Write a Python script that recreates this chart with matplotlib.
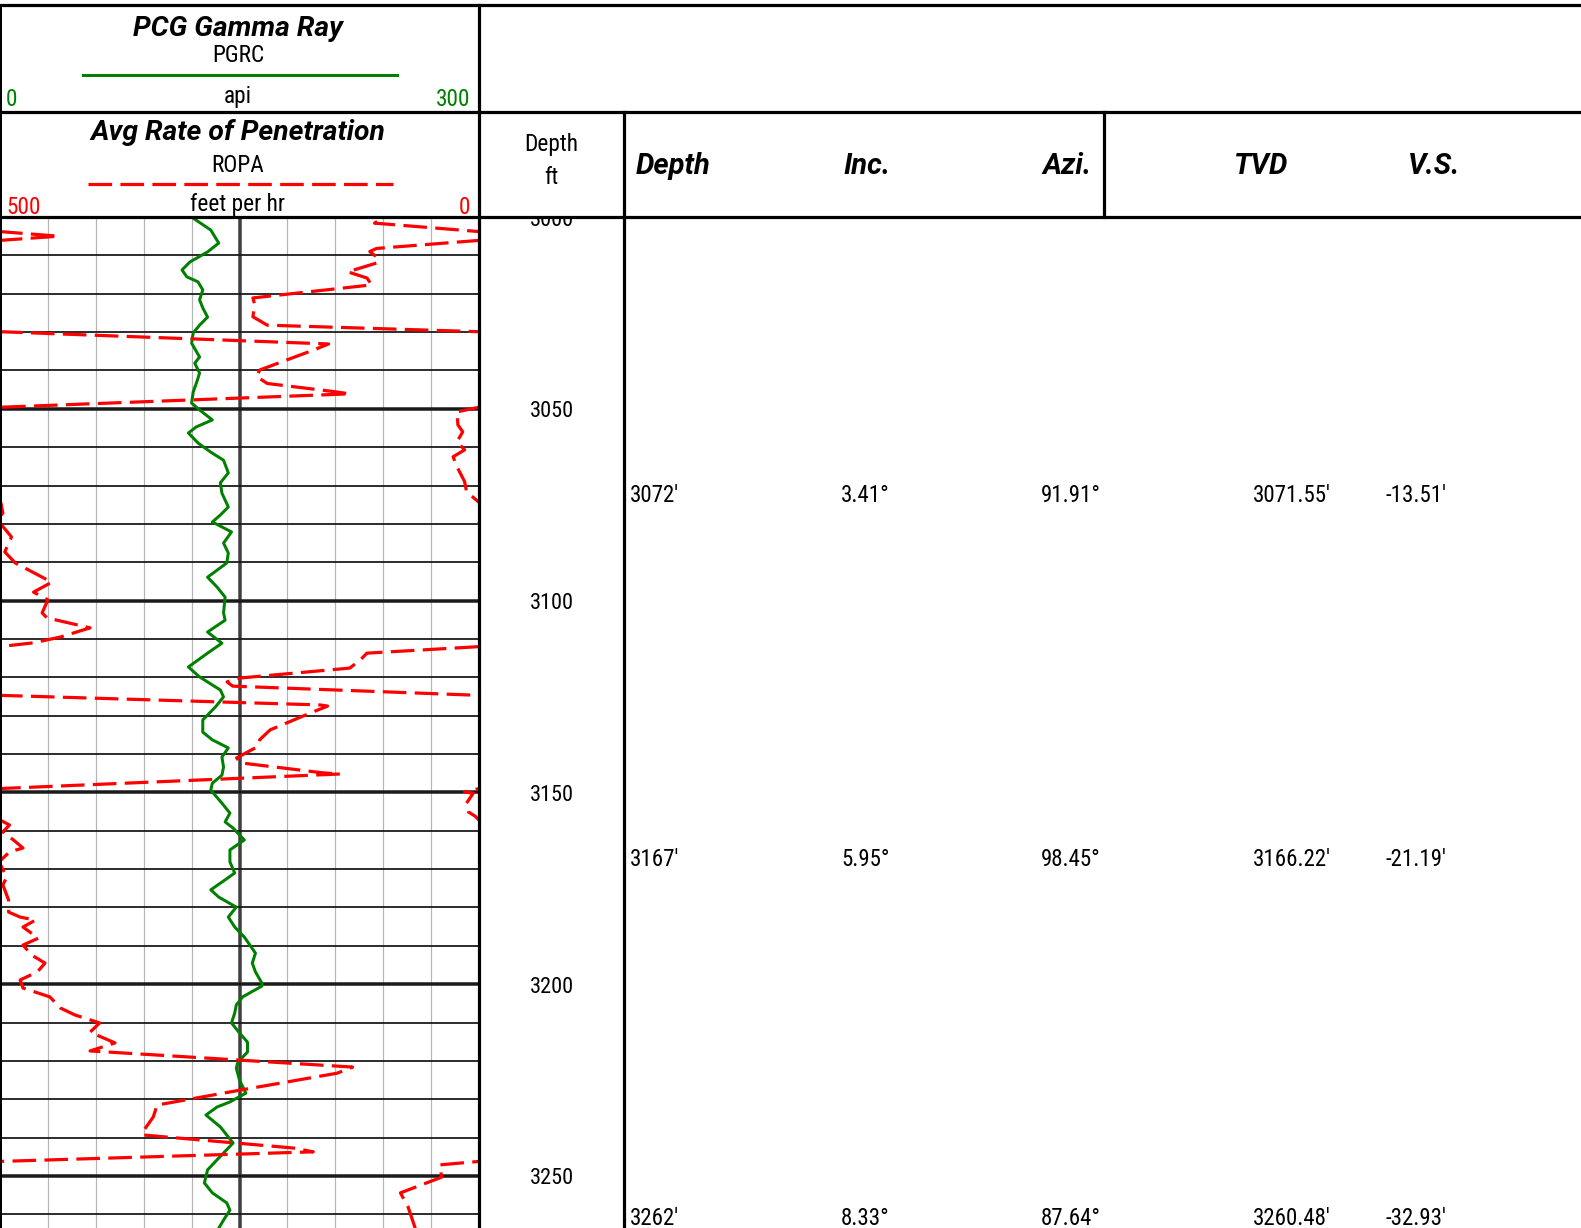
import matplotlib
matplotlib.use("Agg")
import matplotlib.pyplot as plt
from matplotlib.transforms import offset_copy

plt.rcParams['font.family'] = ['Roboto Condensed', 'Roboto', 'DejaVu Sans']
plt.rcParams['lines.scale_dashes'] = False
TITLE_FONT = ['Roboto', 'DejaVu Sans']

# ---- curve data -------------------------------------------------------
gr_depth = [3000.3, 3003.4, 3006.8, 3009.1, 3011.7, 3013.8, 3015.6, 3016.9, 3019.0, 3021.6,
            3023.7, 3026.1, 3028.2, 3030.2, 3032.9, 3036.5, 3038.1, 3040.7, 3043.3, 3045.6,
            3048.5, 3050.3, 3052.9, 3054.7, 3056.3, 3058.9, 3061.3, 3063.4, 3066.7, 3069.3,
            3072.0, 3075.6, 3077.7, 3079.5, 3082.1, 3085.0, 3087.6, 3090.2, 3093.9, 3096.5,
            3099.1, 3103.2, 3105.1, 3108.2, 3111.1, 3113.7, 3117.3, 3119.9, 3123.3, 3125.1,
            3127.7, 3131.1, 3134.3, 3136.3, 3138.4, 3140.8, 3143.4, 3145.5, 3147.6, 3149.4,
            3152.8, 3155.4, 3157.7, 3159.3, 3162.4, 3165.0, 3168.1, 3171.0, 3172.8, 3175.4,
            3177.3, 3179.9, 3182.5, 3185.1, 3187.7, 3191.9, 3194.5, 3196.8, 3199.7, 3200.5,
            3203.3, 3205.4, 3207.5, 3210.1, 3212.7, 3215.1, 3217.7, 3220.3, 3221.9, 3225.0,
            3228.4, 3230.7, 3232.0, 3234.1, 3237.2, 3241.4, 3244.0, 3248.4, 3251.8, 3254.4,
            3257.0, 3258.9, 3261.5, 3263.6]
gr_api = [121, 132, 137, 130, 119, 114, 117, 124, 127, 125,
          127, 130, 125, 121, 120, 125, 122, 125, 123, 121,
          120, 125, 133, 123, 118, 124, 132, 140, 143, 138,
          139, 143, 138, 133, 145, 140, 143, 142, 130, 136,
          141, 140, 141, 130, 139, 130, 118, 125, 138, 140,
          135, 127, 127, 133, 143, 139, 140, 139, 133, 132,
          139, 144, 141, 146, 153, 144, 144, 147, 141, 132,
          137, 148, 143, 147, 153, 160, 158, 160, 164, 164,
          152, 148, 147, 145, 150, 155, 155, 149, 148, 150,
          154, 144, 136, 129, 138, 146, 140, 130, 128, 133,
          142, 144, 140, 137]

# ROP in ft/hr; readings above 500 are shown on the wrap-around (backup) scale
rop_depth = [2999.8, 3000.1, 3001.6, 3003.8, 3005.0, 3006.1, 3008.2, 3009.0, 3010.8, 3012.0,
             3014.3, 3015.9, 3017.7, 3021.1, 3022.9, 3026.0, 3028.2, 3029.9, 3033.1, 3034.7,
             3039.9, 3041.6, 3043.4, 3045.5, 3046.1, 3049.6, 3050.8, 3054.2, 3056.0, 3058.6,
             3060.7, 3062.5, 3065.1, 3069.0, 3071.6, 3074.6, 3077.2, 3078.5, 3079.8, 3083.4,
             3087.3, 3090.2, 3095.2, 3097.8, 3099.8, 3103.2, 3104.5, 3107.1, 3109.5, 3111.0,
             3112.0, 3113.7, 3115.5, 3117.6, 3120.2, 3121.2, 3122.3, 3124.7, 3127.2, 3127.5,
             3129.3, 3133.7, 3136.3, 3138.2, 3141.0, 3142.3, 3144.9, 3145.2, 3149.0, 3149.9,
             3150.2, 3152.8, 3155.1, 3156.2, 3157.2, 3158.5, 3160.3, 3162.4, 3164.5, 3165.5,
             3168.1, 3172.1, 3174.1, 3178.1, 3181.2, 3182.5, 3183.3, 3185.1, 3188.0, 3189.8,
             3192.4, 3194.5, 3196.8, 3198.9, 3201.0, 3203.3, 3206.2, 3208.0, 3210.1, 3212.5,
             3215.3, 3217.4, 3219.8, 3221.6, 3223.2, 3227.6, 3231.5, 3234.6, 3238.5, 3239.3,
             3242.7, 3243.7, 3246.2, 3247.1, 3250.3, 3254.4, 3258.1, 3263.3, 3265.4]
rop_fph = [541, 600, 609, 500, 439, 500, 607, 614, 605, 607,
           637, 617, 612, 736, 734, 736, 721, 500, 157, 173,
           229, 232, 221, 152, 135, 500, 523, 522, 517, 523,
           515, 527, 523, 515, 513, 499, 497, 502, 500, 488,
           495, 484, 446, 465, 450, 456, 451, 406, 437, 465,
           500, 617, 624, 635, 750, 763, 757, 500, 166, 158,
           176, 218, 229, 232, 253, 249, 163, 145, 500, 515,
           506, 513, 511, 504, 500, 490, 497, 486, 476, 490,
           501, 493, 497, 491, 491, 479, 463, 476, 460, 476,
           467, 453, 461, 479, 476, 448, 437, 422, 396, 406,
           380, 406, 249, 132, 148, 249, 336, 340, 351, 351,
           194, 173, 500, 541, 539, 582, 574, 567, 565]

# ---- directional survey stations ---------------------------------------
svy_md = [3072, 3167, 3262]
svy_inc = [3.41, 5.95, 8.33]
svy_azi = [91.91, 98.45, 87.64]
svy_tvd = [3071.55, 3166.22, 3260.48]
svy_vs = [-13.51, -21.19, -32.93]

depth_labels = [3000, 3050, 3100, 3150, 3200, 3250]

# ---- layout (pixel based) ----------------------------------------------
W, H = 1581, 1228
TOP, MID, HDR = 5, 112, 217
X_TRK, X_DEP, X_SVY = 479, 624, 1104
PX = 0.72  # points per pixel at dpi=100
top_depth = 3000.0
bot_depth = top_depth + (H - HDR) / 3.836

GREEN = '#008000'
RED = '#ff0000'
DASH = (0, (17, 6))


def frac(x0, y0, x1, y1):
    return [x0 / W, 1 - y1 / H, (x1 - x0) / W, (y1 - y0) / H]


fig = plt.figure(figsize=(W / 100, H / 100), dpi=100)

# log track: gamma ray (0-300 api) and ROP (500-0 ft/hr) share depth
ax = fig.add_axes(frac(0, HDR, X_TRK, H))
ax.set_xlim(0, 300)
ax.set_ylim(bot_depth, top_depth)
for g in range(30, 300, 30):
    if g == 150:
        ax.axvline(g, color='#404040', lw=3.5 * PX, zorder=1)
    else:
        ax.axvline(g, color='#b4b4b4', lw=1.2 * PX, zorder=1)
for d in range(3010, 3270, 10):
    heavy = d % 50 == 0
    ax.axhline(d, color='#1a1a1a', lw=(3.5 if heavy else 1.8) * PX, zorder=1)
ax.plot(gr_api, gr_depth, color=GREEN, lw=3 * PX, zorder=3, solid_joinstyle='round')

ax_rop = ax.twiny()
ax_rop.set_xlim(500, 0)
ax_rop.set_ylim(bot_depth, top_depth)
ax_rop.plot(rop_fph, rop_depth, color=RED, lw=3.2 * PX, ls=DASH)
ax_rop.plot([v - 500 for v in rop_fph], rop_depth, color=RED, lw=3.2 * PX, ls=DASH)

for a in (ax, ax_rop):
    a.set_xticks([])
    a.set_yticks([])
    for s in a.spines.values():
        s.set_visible(False)

# depth track
ax_d = fig.add_axes(frac(X_TRK, HDR, X_DEP, H))
ax_d.set_xlim(0, 1)
ax_d.set_ylim(bot_depth, top_depth)
ax_d.axis('off')
d_tr = offset_copy(ax_d.transData, fig=fig, y=-3, units='dots')
for d in depth_labels:
    ax_d.text(0.5, d, str(d), ha='center', va='center', fontsize=16, clip_on=True,
              transform=d_tr)

# survey listing
ax_s = fig.add_axes(frac(X_DEP, HDR, W, H))
ax_s.set_xlim(X_DEP, W)
ax_s.set_ylim(bot_depth, top_depth)
ax_s.axis('off')
s_tr = offset_copy(ax_s.transData, fig=fig, y=-2, units='dots')
for md, inc, azi, tvd, vs in zip(svy_md, svy_inc, svy_azi, svy_tvd, svy_vs):
    y = min(md, bot_depth - 2.9)
    kw = dict(va='center', fontsize=16.5, transform=s_tr)
    ax_s.text(630, y, f"{md}'", ha='left', **kw)
    ax_s.text(841, y, f"{inc:.2f}°", ha='left', **kw)
    ax_s.text(1041, y, f"{azi:.2f}°", ha='left', **kw)
    ax_s.text(1253, y, f"{tvd:.2f}'", ha='left', **kw)
    ax_s.text(1385, y, f"{vs:.2f}'", ha='left', **kw)

# header and frame drawn in pixel coordinates
hd = fig.add_axes([0, 0, 1, 1], zorder=10)
hd.set_xlim(0, W)
hd.set_ylim(H, 0)
hd.axis('off')
hd.patch.set_alpha(0)

thick = 3.2 * PX
for y in (TOP, MID, HDR):
    hd.plot([0, W], [y, y], color='black', lw=thick, solid_capstyle='butt')
hd.plot([1, 1], [TOP, H], color='black', lw=2 * PX)
hd.plot([X_TRK, X_TRK], [TOP, H], color='black', lw=thick)
hd.plot([X_DEP, X_DEP], [MID, H], color='black', lw=thick)
hd.plot([X_SVY, X_SVY], [MID, HDR], color='black', lw=thick)

title_kw = dict(fontsize=20.3, fontweight='bold', fontstyle='italic', ha='center',
                va='center', family=TITLE_FONT)
norm_kw = dict(fontsize=16.8, va='center')

hd.text(238, 28, 'PCG Gamma Ray', **title_kw)
hd.text(238, 56, 'PGRC', ha='center', **norm_kw)
hd.plot([83, 397], [75, 75], color=GREEN, lw=3 * PX)
hd.text(6, 100, '0', ha='left', color=GREEN, **norm_kw)
hd.text(470, 100, '300', ha='right', color=GREEN, **norm_kw)
hd.text(238, 96, 'api', ha='center', **norm_kw)

hd.text(238, 133, 'Avg Rate of Penetration', **title_kw)
hd.text(238, 165, 'ROPA', ha='center', **norm_kw)
hd.plot([88, 393], [184, 184], color=RED, lw=3.2 * PX, ls=DASH)
hd.text(6, 207, '500', ha='left', color=RED, **norm_kw)
hd.text(470, 207, '0', ha='right', color=RED, **norm_kw)
hd.text(238, 205, 'feet per hr', ha='center', **norm_kw)

hd.text(551, 145, 'Depth', ha='center', **norm_kw)
hd.text(551, 177, 'ft', ha='center', **norm_kw)

col_kw = dict(fontsize=21, fontweight='bold', fontstyle='italic', va='center', family=TITLE_FONT)
hd.text(636, 166, 'Depth', ha='left', **col_kw)
hd.text(843, 166, 'Inc.', ha='left', **col_kw)
hd.text(1092, 166, 'Azi.', ha='right', **col_kw)
hd.text(1261, 166, 'TVD', ha='center', **col_kw)
hd.text(1434, 166, 'V.S.', ha='center', **col_kw)

fig.savefig('out.png', dpi=100)
